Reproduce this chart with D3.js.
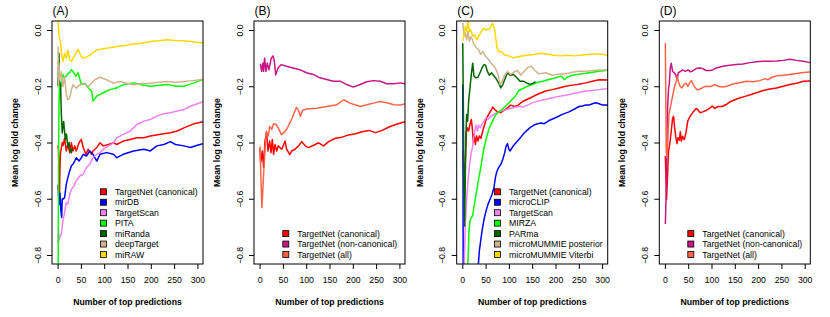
<!DOCTYPE html>
<html>
<head>
<meta charset="utf-8">
<script src="https://cdn.jsdelivr.net/npm/d3@7"></script>
<style>
  body { margin: 0; background: #fff; }
  text { font-family: "Liberation Sans", Arial, Helvetica, sans-serif; }
</style>
</head>
<body>
<svg id="chart" width="830" height="317"></svg>
<script>
// Axis ticks shared by all four panels
const xTicks = [0, 50, 100, 150, 200, 250, 300];
const yTicks = [-0.8, -0.6, -0.4, -0.2, 0.0];
const xLimits = [0, 300];
const yLimits = [-0.8, 0];

// Panel A: [number of top predictions, mean log fold change]
const aTargetNet = [[1,-0.41],[2,-0.43],[3,-0.52],[4,-0.6],[5,-0.5],[6,-0.44],[8,-0.42],[10,-0.4],[12,-0.41],[15,-0.385],[18.7,-0.43],[22,-0.407],[26,-0.436],[29.6,-0.401],[33,-0.43],[36.8,-0.412],[40,-0.43],[46,-0.401],[51,-0.389],[55,-0.418],[60.6,-0.442],[65.6,-0.424],[72.8,-0.442],[76,-0.43],[84,-0.418],[91,-0.401],[98,-0.412],[109,-0.407],[120,-0.401],[127,-0.407],[141,-0.395],[156,-0.389],[170,-0.383],[185,-0.383],[199,-0.377],[221,-0.371],[242,-0.365],[257,-0.359],[271,-0.348],[293,-0.333],[312,-0.326]];
const aMirDB = [[1,-0.55],[3,-0.62],[5,-0.58],[7,-0.64],[8.7,-0.667],[10,-0.6],[11.5,-0.602],[15,-0.596],[18.7,-0.548],[22,-0.525],[26,-0.501],[29.6,-0.483],[33,-0.477],[36.8,-0.466],[40,-0.454],[46,-0.466],[51,-0.454],[55,-0.442],[62,-0.448],[69,-0.43],[76,-0.442],[84,-0.466],[91,-0.442],[105,-0.436],[120,-0.442],[127,-0.454],[141,-0.442],[163,-0.43],[185,-0.424],[199,-0.43],[213,-0.412],[228,-0.407],[242,-0.397],[253,-0.407],[271,-0.412],[285,-0.418],[300,-0.41],[312,-0.404]];
const aTargetScan = [[1,-0.76],[2,-0.7],[3,-0.75],[4.3,-0.738],[8,-0.726],[11.5,-0.678],[15,-0.649],[18.7,-0.613],[22,-0.619],[26,-0.584],[29.6,-0.566],[33,-0.56],[36.8,-0.548],[40,-0.536],[47.6,-0.519],[55,-0.513],[62,-0.489],[69,-0.477],[76,-0.454],[84,-0.442],[91,-0.436],[98,-0.424],[109,-0.412],[120,-0.401],[127,-0.383],[141,-0.371],[156,-0.359],[170,-0.336],[185,-0.324],[199,-0.318],[213,-0.306],[228,-0.298],[242,-0.294],[257,-0.288],[271,-0.283],[285,-0.271],[300,-0.262],[312,-0.255]];
const aPITA = [[1,-1.0],[2,-0.5],[3,-0.26],[4.3,-0.194],[8,-0.2],[11.5,-0.158],[15,-0.17],[18.7,-0.164],[22,-0.155],[26,-0.152],[29.6,-0.141],[33,-0.147],[39,-0.164],[44,-0.152],[51,-0.194],[58,-0.19],[66,-0.206],[73,-0.217],[76,-0.253],[84,-0.235],[98,-0.223],[112,-0.212],[127,-0.206],[141,-0.194],[163,-0.188],[180,-0.195],[199,-0.2],[215,-0.197],[235,-0.194],[255,-0.2],[271,-0.2],[293,-0.188],[312,-0.176]];
const aMiRanda = [[1,-0.2],[2,-0.12],[3,-0.083],[4,-0.18],[6.5,-0.2],[8,-0.3],[10,-0.366],[11.5,-0.34],[13,-0.325],[16.6,-0.39],[19,-0.37],[22,-0.414],[25,-0.4],[27,-0.43],[29.6,-0.437],[31,-0.42]];
const aDeepTarget = [[1,-0.06],[2,-0.2],[3,-0.12],[4.3,-0.177],[8,-0.148],[11.5,-0.201],[15,-0.165],[18.7,-0.23],[22,-0.248],[26,-0.242],[29.6,-0.213],[33,-0.195],[40,-0.207],[47.6,-0.195],[55,-0.189],[66,-0.201],[80,-0.177],[91,-0.168],[105,-0.177],[120,-0.189],[134,-0.183],[148.5,-0.189],[163,-0.195],[180,-0.19],[199,-0.189],[217,-0.186],[235,-0.183],[253,-0.186],[271,-0.183],[290,-0.18],[307,-0.177],[312,-0.176]];
const aMiRAW = [[1,0.035],[3,-0.02],[6.5,-0.047],[9,-0.09],[11.5,-0.112],[15,-0.083],[18.7,-0.1],[22,-0.071],[26,-0.106],[29.6,-0.112],[36.8,-0.089],[44,-0.069],[51,-0.095],[58,-0.1],[69,-0.089],[84,-0.071],[105,-0.065],[127,-0.059],[145,-0.055],[163,-0.05],[180,-0.047],[199,-0.041],[217,-0.038],[235,-0.035],[253,-0.037],[271,-0.038],[290,-0.042],[307,-0.045],[312,-0.045]];

// Panel B
const bCanonical = [[1,-0.42],[2.2,-0.47],[3.6,-0.461],[5.8,-0.43],[8.6,-0.489],[11.5,-0.395],[15,-0.365],[18,-0.43],[21.6,-0.395],[24.5,-0.436],[27.3,-0.389],[30,-0.442],[33,-0.407],[36.7,-0.43],[40,-0.412],[47.5,-0.424],[54.7,-0.395],[58,-0.424],[64.7,-0.443],[69,-0.43],[76,-0.424],[83.5,-0.412],[90.6,-0.397],[98,-0.412],[105,-0.418],[119.4,-0.407],[126.6,-0.401],[137.4,-0.412],[148,-0.397],[162.6,-0.385],[177,-0.381],[191,-0.373],[205.8,-0.369],[220,-0.362],[234.5,-0.357],[249,-0.365],[263,-0.357],[277.7,-0.345],[292,-0.336],[312,-0.326]];
const bNonCanonical = [[1,-0.12],[2.2,-0.124],[4.3,-0.147],[7.2,-0.117],[8.6,-0.147],[10.8,-0.1],[13.7,-0.147],[16.5,-0.117],[20,-0.141],[25,-0.1],[28.8,-0.092],[31.7,-0.111],[34.5,-0.16],[39.6,-0.135],[46.8,-0.123],[57.5,-0.129],[72,-0.135],[86,-0.141],[100.7,-0.152],[115,-0.158],[129.5,-0.17],[144,-0.176],[158,-0.182],[172.7,-0.182],[187,-0.194],[201,-0.203],[216,-0.194],[230,-0.184],[244.6,-0.18],[259,-0.182],[273,-0.191],[288,-0.191],[302,-0.188],[312,-0.191]];
const bAll = [[1,-0.414],[2.2,-0.489],[5,-0.632],[8.6,-0.513],[11.5,-0.43],[14.4,-0.36],[18.7,-0.377],[21.6,-0.343],[26,-0.353],[30,-0.333],[36,-0.337],[40,-0.348],[46.8,-0.372],[52,-0.365],[57.5,-0.355],[68.3,-0.319],[79,-0.275],[83.5,-0.286],[87.8,-0.307],[92,-0.286],[100.7,-0.281],[122,-0.278],[144,-0.272],[165.5,-0.266],[180,-0.248],[194,-0.26],[216,-0.272],[230,-0.266],[244.6,-0.26],[259,-0.254],[273,-0.259],[288,-0.266],[302,-0.267],[312,-0.262]];

// Panel C
const cTargetNet = [[1.4,-0.43],[2.9,-0.513],[4.3,-0.572],[6.5,-0.466],[8.6,-0.365],[10.8,-0.348],[13.6,-0.359],[16.5,-0.336],[19.4,-0.318],[21.5,-0.348],[23.7,-0.401],[25.8,-0.371],[28,-0.407],[30.9,-0.377],[33.7,-0.395],[36.6,-0.377],[40,-0.385],[43.8,-0.359],[48,-0.336],[52.4,-0.312],[56.7,-0.3],[61,-0.288],[65.3,-0.274],[69.6,-0.283],[75.4,-0.291],[82.6,-0.294],[89.7,-0.286],[97,-0.277],[104,-0.267],[112.7,-0.272],[120,-0.267],[128.5,-0.255],[137,-0.248],[147,-0.241],[157,-0.232],[167,-0.225],[178.7,-0.217],[193,-0.212],[207.5,-0.206],[221.8,-0.2],[236,-0.196],[250.5,-0.193],[265,-0.188],[279,-0.182],[293.6,-0.177],[313,-0.178]];
const cMicroCLIP = [[1,-0.194],[1.5,-0.43],[2,-1.0],[34,-1.0],[34.5,-0.833],[36.6,-0.785],[39.5,-0.749],[42.4,-0.714],[46.7,-0.673],[51,-0.643],[55.3,-0.619],[59.6,-0.602],[64,-0.584],[68,-0.56],[71,-0.525],[74,-0.504],[78,-0.489],[82.6,-0.478],[86.9,-0.46],[91,-0.436],[94,-0.413],[97,-0.404],[100,-0.424],[102.7,-0.43],[107,-0.418],[111,-0.409],[118.5,-0.395],[125.6,-0.381],[132.8,-0.366],[140,-0.355],[147,-0.345],[154,-0.338],[161.5,-0.333],[168.7,-0.331],[176,-0.333],[186,-0.322],[200,-0.312],[214.6,-0.3],[229,-0.291],[243,-0.279],[250.5,-0.272],[257.7,-0.27],[265,-0.267],[272,-0.267],[279,-0.262],[286.4,-0.259],[293.6,-0.262],[300.8,-0.267],[313,-0.267]];
const cTargetScan = [[1,-1.0],[3.6,-0.9],[5,-0.785],[6.5,-0.69],[8,-0.643],[10,-0.584],[12.2,-0.537],[15,-0.489],[17.2,-0.46],[19.4,-0.436],[22.3,-0.413],[24.4,-0.383],[26.6,-0.365],[29.4,-0.338],[32.3,-0.359],[35,-0.338],[38.8,-0.348],[42.4,-0.333],[46.7,-0.324],[51,-0.312],[55.3,-0.317],[61,-0.307],[68,-0.3],[75.4,-0.293],[84,-0.288],[92.6,-0.284],[102.7,-0.279],[114,-0.274],[124,-0.271],[131,-0.274],[140,-0.267],[150,-0.259],[164,-0.252],[178.7,-0.247],[193,-0.241],[207.5,-0.236],[221.8,-0.232],[236,-0.227],[250.5,-0.222],[265,-0.217],[279,-0.215],[293.6,-0.212],[313,-0.208]];
const cMIRZA = [[1,-1.2],[6,-1.1],[11.5,-0.856],[13,-0.785],[14.4,-0.714],[16.5,-0.678],[19.4,-0.667],[22.3,-0.66],[25,-0.63],[28,-0.6],[31.6,-0.565],[35,-0.53],[39.5,-0.49],[42.4,-0.46],[46,-0.425],[49.5,-0.4],[53.8,-0.371],[58,-0.348],[62.5,-0.333],[66.8,-0.318],[71,-0.303],[78,-0.291],[85.4,-0.283],[92.6,-0.271],[100,-0.259],[107,-0.247],[114,-0.235],[121,-0.215],[130,-0.208],[138.5,-0.201],[150,-0.194],[161.5,-0.186],[173,-0.182],[186,-0.176],[200,-0.17],[213,-0.164],[219,-0.177],[224.7,-0.168],[236,-0.161],[250.5,-0.157],[265,-0.154],[279,-0.15],[293.6,-0.147],[313,-0.143]];
const cPARma = [[1,-0.047],[2.2,-0.253],[3.6,-0.548],[5,-0.697],[6.5,-0.525],[7.9,-0.371],[9.3,-0.3],[11.5,-0.324],[13.6,-0.253],[16.5,-0.206],[19.4,-0.158],[22.3,-0.118],[25,-0.164],[29.4,-0.17],[33.7,-0.168],[38,-0.152],[42.4,-0.135],[46.7,-0.123],[50,-0.125],[53.8,-0.147],[58,-0.161],[62.5,-0.152],[66.8,-0.161],[72.5,-0.173],[78,-0.188],[82.6,-0.206],[86.9,-0.194],[92.6,-0.17],[97,-0.152],[102.7,-0.161],[110,-0.158],[117,-0.17],[124,-0.182],[131,-0.182],[138.5,-0.189],[145.7,-0.194],[153,-0.188],[157,-0.184]];
const cPosterior = [[1.4,0.025],[3.6,-0.022],[6.5,-0.011],[9.3,-0.035],[12.2,-0.005],[15,-0.04],[18,-0.024],[20.8,-0.031],[25,-0.052],[31,-0.064],[35,-0.07],[39.5,-0.087],[43.8,-0.076],[49.5,-0.093],[56.7,-0.105],[64,-0.123],[71,-0.135],[76.8,-0.158],[81,-0.194],[85.4,-0.182],[89.7,-0.164],[97,-0.147],[104,-0.158],[111,-0.149],[118.5,-0.144],[125.6,-0.161],[132.8,-0.147],[141.4,-0.132],[148.6,-0.129],[155.8,-0.144],[164,-0.156],[178.7,-0.152],[193,-0.161],[207.5,-0.156],[221.8,-0.156],[236,-0.15],[250.5,-0.147],[265,-0.147],[279,-0.144],[293.6,-0.142],[313,-0.142]];
const cViterbi = [[1.4,-0.038],[3.6,-0.017],[6.5,0.013],[9.3,-0.005],[12.2,0.03],[15,-0.005],[18,0.001],[22,-0.022],[26.6,-0.017],[31,-0.035],[35,-0.022],[41,-0.005],[46,0.005],[52.4,0],[59.6,0.007],[65,0.024],[69.6,0],[74,-0.058],[77,-0.076],[82.5,-0.076],[89.7,-0.087],[100,-0.093],[111,-0.099],[124,-0.093],[138.5,-0.09],[153,-0.087],[167,-0.083],[181.6,-0.085],[196,-0.09],[210,-0.092],[224.7,-0.09],[239,-0.092],[253,-0.09],[268,-0.087],[282,-0.085],[296.5,-0.085],[313,-0.091]];

// Panel D
const dCanonical = [[1,-0.448],[2.2,-0.525],[3.6,-0.602],[5.8,-0.513],[7.9,-0.43],[10.8,-0.401],[13.7,-0.359],[16.5,-0.314],[18.7,-0.307],[20.9,-0.348],[23.7,-0.383],[25.9,-0.404],[28,-0.383],[31,-0.392],[33,-0.362],[35.3,-0.395],[38,-0.378],[41.7,-0.39],[45.3,-0.365],[49,-0.324],[52.5,-0.312],[56.8,-0.3],[61,-0.291],[67,-0.279],[71,-0.284],[75.5,-0.294],[81,-0.291],[88.5,-0.286],[95.7,-0.279],[101.4,-0.27],[107,-0.279],[114,-0.272],[123,-0.272],[131.7,-0.265],[140,-0.255],[150,-0.248],[160,-0.242],[172,-0.236],[183.5,-0.23],[196.4,-0.223],[210.8,-0.215],[225,-0.21],[239.6,-0.206],[254,-0.2],[268,-0.194],[282.7,-0.189],[297,-0.182],[311.5,-0.181]];
const dNonCanonical = [[1,-0.69],[2.9,-0.572],[4.3,-0.407],[5.8,-0.277],[7.9,-0.206],[9.4,-0.194],[11.5,-0.135],[13.7,-0.118],[16.5,-0.147],[20,-0.152],[23.7,-0.161],[26,-0.177],[28.8,-0.152],[33.8,-0.147],[38,-0.142],[44,-0.147],[49.6,-0.142],[55.4,-0.149],[61,-0.144],[67,-0.137],[74,-0.135],[81,-0.137],[88.5,-0.144],[95.7,-0.144],[103,-0.142],[110,-0.135],[124.5,-0.129],[139,-0.125],[153,-0.123],[167.6,-0.121],[182,-0.116],[196.4,-0.113],[210.8,-0.111],[225,-0.111],[239.6,-0.11],[254,-0.108],[268,-0.104],[282.7,-0.108],[297,-0.111],[311.5,-0.116]];
const dAll = [[1,-0.046],[2.9,-0.43],[4.3,-0.454],[6.5,-0.383],[8.6,-0.3],[11.5,-0.277],[14.4,-0.253],[18,-0.223],[20.9,-0.2],[24.5,-0.182],[26.6,-0.165],[28.8,-0.182],[32.4,-0.2],[36.7,-0.206],[41,-0.194],[45.3,-0.189],[49.6,-0.2],[53,-0.188],[56.8,-0.18],[61,-0.194],[65.5,-0.206],[69.8,-0.213],[75.5,-0.21],[82.7,-0.203],[90,-0.2],[98.6,-0.201],[107,-0.194],[115.8,-0.201],[124.5,-0.203],[133,-0.2],[143,-0.194],[153,-0.189],[163,-0.187],[175,-0.182],[189,-0.184],[203.6,-0.18],[215,-0.173],[221,-0.177],[229.5,-0.168],[239.6,-0.163],[254,-0.161],[268,-0.158],[282.7,-0.155],[297,-0.151],[311.5,-0.149]];

const panels = [
    { label: '(A)', left: 52, legendX: 63, series: [
        { name: 'TargetNet (canonical)', color: '#FF0000', values: aTargetNet },
        { name: 'mirDB', color: '#0000FF', values: aMirDB },
        { name: 'TargetScan', color: '#EE82EE', values: aTargetScan },
        { name: 'PITA', color: '#00FF00', values: aPITA },
        { name: 'miRanda', color: '#006400', values: aMiRanda },
        { name: 'deepTarget', color: '#D2B48C', values: aDeepTarget },
        { name: 'miRAW', color: '#FFD700', values: aMiRAW }
    ]},
    { label: '(B)', left: 254, legendX: 43.3, series: [
        { name: 'TargetNet (canonical)', color: '#FF0000', values: bCanonical },
        { name: 'TargetNet (non-canonical)', color: '#C71585', values: bNonCanonical },
        { name: 'TargetNet (all)', color: '#FF6347', values: bAll }
    ]},
    { label: '(C)', left: 456.7, legendX: 52.3, series: [
        { name: 'TargetNet (canonical)', color: '#FF0000', values: cTargetNet },
        { name: 'microCLIP', color: '#0000FF', values: cMicroCLIP },
        { name: 'TargetScan', color: '#EE82EE', values: cTargetScan },
        { name: 'MIRZA', color: '#00FF00', values: cMIRZA },
        { name: 'PARma', color: '#006400', values: cPARma },
        { name: 'microMUMMIE posterior', color: '#D2B48C', values: cPosterior },
        { name: 'microMUMMIE Viterbi', color: '#FFD700', values: cViterbi }
    ]},
    { label: '(D)', left: 659.3, legendX: 43, series: [
        { name: 'TargetNet (canonical)', color: '#FF0000', values: dCanonical },
        { name: 'TargetNet (non-canonical)', color: '#C71585', values: dNonCanonical },
        { name: 'TargetNet (all)', color: '#FF6347', values: dAll }
    ]}
];

const svg = d3.select('#chart');
const boxTop = 21, boxBottom = 264, boxWidth = 151;
const fontSize = '8.7px';

// R-style 4% axis extension around the limits
const pad = (lim) => {
    const ext = (lim[1] - lim[0]) * 0.04;
    return [lim[0] - ext, lim[1] + ext];
};

const x = d3.scaleLinear().domain(pad(xLimits)).range([0, boxWidth]);
const y = d3.scaleLinear().domain(pad(yLimits)).range([boxBottom, boxTop]);

const line = d3.line()
    .x(d => x(d[0]))
    .y(d => y(d[1]));

const defs = svg.append('defs');

panels.forEach((p, i) => {
    const g = svg.append('g').attr('transform', `translate(${p.left},0)`);

    const clipId = 'clip-' + i;
    defs.append('clipPath').attr('id', clipId)
        .append('rect')
        .attr('x', 0).attr('y', boxTop)
        .attr('width', boxWidth).attr('height', boxBottom - boxTop);

    // Lines, clipped to the plot box
    g.append('g')
        .attr('clip-path', `url(#${clipId})`)
        .selectAll('path')
        .data(p.series)
        .enter()
        .append('path')
        .attr('d', d => line(d.values))
        .attr('fill', 'none')
        .attr('stroke', d => d.color)
        .attr('stroke-width', 1.5)
        .attr('stroke-linejoin', 'round');

    // Box
    g.append('rect')
        .attr('x', 0).attr('y', boxTop)
        .attr('width', boxWidth).attr('height', boxBottom - boxTop)
        .attr('fill', 'none')
        .attr('stroke', '#000')
        .attr('stroke-width', 1);

    // X axis
    const xAxis = g.append('g')
        .attr('transform', `translate(0,${boxBottom})`)
        .call(d3.axisBottom(x).tickValues(xTicks).tickSize(5).tickPadding(8).tickFormat(d3.format('d')));
    xAxis.select('.domain').remove();
    xAxis.selectAll('line').attr('stroke', '#000');
    xAxis.selectAll('text')
        .attr('font-size', fontSize)
        .attr('font-family', '"Liberation Sans", Arial, sans-serif')
        .attr('fill', '#000');

    // Y axis, labels parallel to the axis
    const yAxis = g.append('g')
        .call(d3.axisLeft(y).tickValues(yTicks).tickSize(5).tickFormat(d3.format('.1f')));
    yAxis.select('.domain').remove();
    yAxis.selectAll('line').attr('stroke', '#000');
    yAxis.selectAll('text')
        .attr('x', 0)
        .attr('y', -11.5)
        .attr('dy', null)
        .attr('text-anchor', 'middle')
        .attr('transform', 'rotate(-90)')
        .attr('font-size', fontSize)
        .attr('font-family', '"Liberation Sans", Arial, sans-serif')
        .attr('fill', '#000');

    // Axis titles
    g.append('text')
        .attr('x', boxWidth / 2)
        .attr('y', 305)
        .attr('text-anchor', 'middle')
        .attr('font-size', fontSize)
        .attr('font-weight', 'bold')
        .text('Number of top predictions');

    g.append('text')
        .attr('transform', `translate(-34,${(boxTop + boxBottom) / 2}) rotate(-90)`)
        .attr('text-anchor', 'middle')
        .attr('font-size', fontSize)
        .attr('font-weight', 'bold')
        .text('Mean log fold change');

    // Panel label
    g.append('text')
        .attr('x', 0.5)
        .attr('y', 14.5)
        .attr('font-size', '12px')
        .text(p.label);

    // Legend, bottom right, no frame
    const n = p.series.length;
    const legend = g.append('g')
        .selectAll('g')
        .data(p.series)
        .enter()
        .append('g')
        .attr('transform', (d, k) => `translate(${p.legendX},${254.5 - (n - 1 - k) * 10.45})`);

    legend.append('rect')
        .attr('x', -14.5)
        .attr('y', -3)
        .attr('width', 6)
        .attr('height', 6)
        .attr('fill', d => d.color)
        .attr('stroke', '#000')
        .attr('stroke-width', 0.8);

    legend.append('text')
        .attr('x', 0)
        .attr('dy', '0.35em')
        .attr('font-size', fontSize)
        .text(d => d.name);
});
</script>
</body>
</html>
